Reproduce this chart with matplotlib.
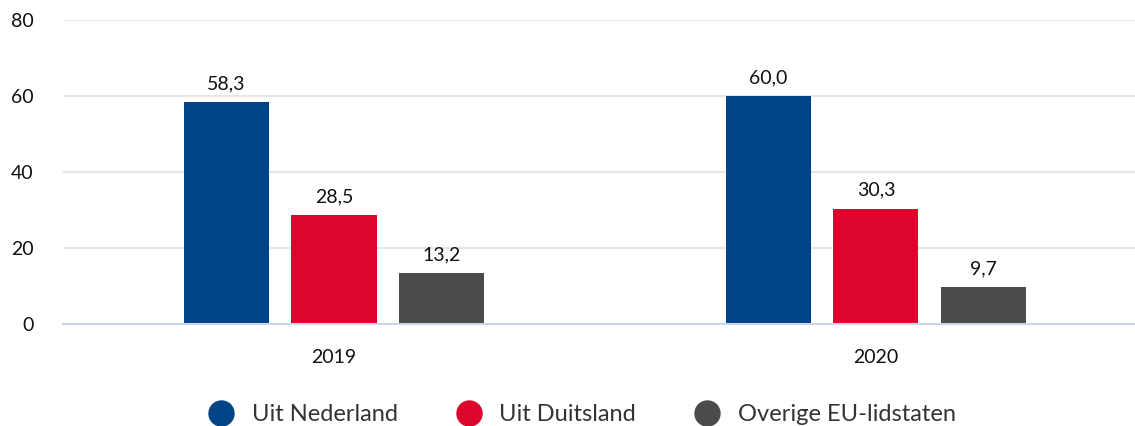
#!/usr/bin/env python3
"""Staafdiagram herkomst 2019-2020"""
import numpy as np
import matplotlib.pyplot as plt
from matplotlib.lines import Line2D

years = ['2019', '2020']
series = ['Uit Nederland', 'Uit Duitsland', 'Overige EU-lidstaten']
values = {
    'Uit Nederland': [58.3, 60.0],
    'Uit Duitsland': [28.5, 30.3],
    'Overige EU-lidstaten': [13.2, 9.7],
}
colors = ['#004488', '#dc052d', '#4b4b4a']

plt.rcParams['font.family'] = ['Lato', 'DejaVu Sans']

fig = plt.figure(figsize=(11.35, 4.26), dpi=100)
ax = fig.add_axes([0.0555, 0.2406, 0.9445, 0.7124])

x = np.arange(len(years))
step = 0.199
width = 0.157

for i, name in enumerate(series):
    pos = x + (i - 1) * step
    bars = ax.bar(pos, values[name], width=width, color=colors[i], zorder=3)
    for b, v in zip(bars, values[name]):
        ax.annotate(f'{v:.1f}'.replace('.', ','),
                    (b.get_x() + b.get_width() / 2, v),
                    xytext=(0, 7), textcoords='offset points',
                    ha='center', va='bottom', fontsize=14, color='#111111')

ax.set_xlim(-0.5, 1.478)
ax.set_ylim(0, 80)
ax.set_yticks([0, 20, 40, 60, 80])
ax.set_xticks(x)
ax.set_xticklabels(years)
ax.tick_params(axis='both', length=0, labelsize=14, colors='#111111')
ax.tick_params(axis='x', pad=18)
ax.tick_params(axis='y', pad=21)

ax.grid(axis='y', color='#e6e6e6', linewidth=1.5, zorder=0)
for s in ['top', 'right', 'left']:
    ax.spines[s].set_visible(False)
ax.spines['bottom'].set_color('#ccd6eb')
ax.spines['bottom'].set_linewidth(1.5)
ax.spines['bottom'].set_zorder(4)

handles = [Line2D([], [], marker='o', linestyle='', markersize=18,
                  markerfacecolor=c, markeredgecolor=c) for c in colors]
fig.legend(handles, series, loc='center', bbox_to_anchor=(0.508, 0.027),
           ncol=3, frameon=False, fontsize=17, handletextpad=0.3,
           columnspacing=2.0, labelcolor='#333333')

fig.savefig('out.png', dpi=100)
